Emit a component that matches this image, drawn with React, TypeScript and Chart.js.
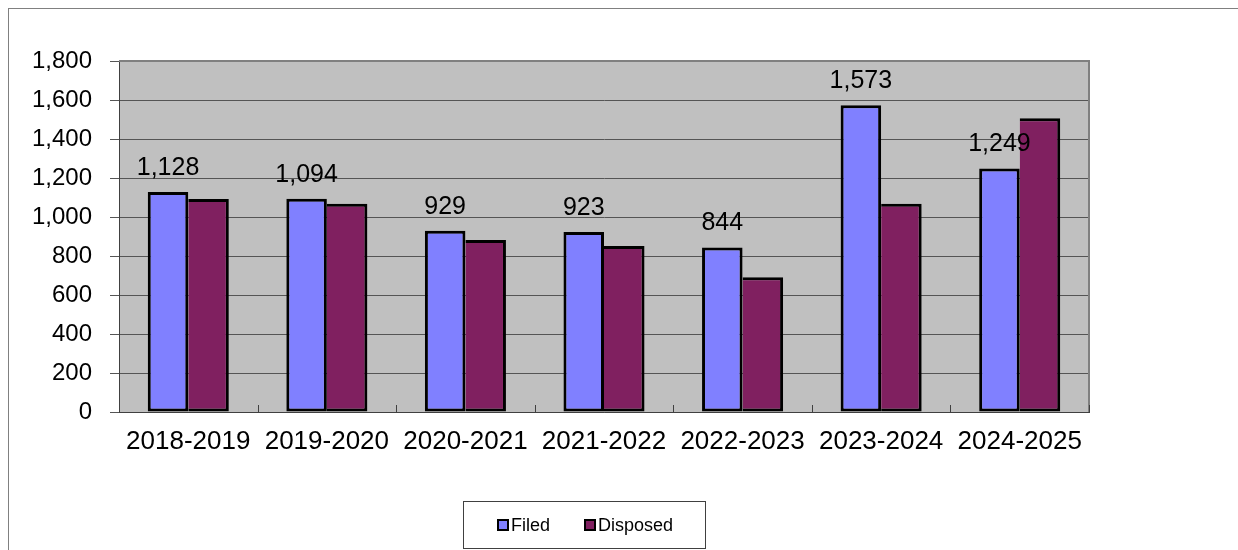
import { useEffect, useRef } from "react";
import { Chart, registerables, type Plugin } from "chart.js";

Chart.register(...registerables);

const categories = ["2018-2019", "2019-2020", "2020-2021", "2021-2022", "2022-2023", "2023-2024", "2024-2025"];
const filed = [1128, 1094, 929, 923, 844, 1573, 1249];
const disposed = [1092, 1068, 882, 851, 691, 1068, 1506];
const seriesNames = ["Filed", "Disposed"];
const yMin = 0;
const yMax = 1800;
const yStep = 200;

const FONT = "'Liberation Sans', Arial, sans-serif";
const FILED_COLOR = "#8080FF";
const DISPOSED_COLOR = "#802060";

const fmt = (v: number) => v.toLocaleString("en-US");

// background, frame, inner x ticks, value labels and legend box
const decor: Plugin<"bar"> = {
    id: "decor",
    beforeDraw(chart) {
        const { ctx, chartArea: a } = chart;
        ctx.save();
        ctx.fillStyle = "#ffffff";
        ctx.fillRect(0, 0, chart.width, chart.height);
        ctx.strokeStyle = "#808080";
        ctx.lineWidth = 1;
        ctx.strokeRect(8.5, 8.5, chart.width + 20, chart.height + 20);
        ctx.fillStyle = "#C0C0C0";
        ctx.fillRect(a.left, a.top, a.right - a.left, a.bottom - a.top);
        ctx.restore();
    },
    afterDatasetsDraw(chart) {
        const { ctx, chartArea: a } = chart;
        const x = chart.scales.x;
        ctx.save();
        // plot area border (top / right)
        ctx.strokeStyle = "#808080";
        ctx.lineWidth = 2;
        ctx.beginPath();
        ctx.moveTo(a.left, a.top);
        ctx.lineTo(a.right, a.top);
        ctx.lineTo(a.right, a.bottom);
        ctx.stroke();

        // category separators pointing up into the plot
        const half = (x.getPixelForValue(1) - x.getPixelForValue(0)) / 2;
        ctx.strokeStyle = "#404040";
        ctx.lineWidth = 1;
        for (let i = 0; i <= categories.length; i++) {
            const px = Math.round(x.getPixelForValue(i) - half) + 0.5;
            ctx.beginPath();
            ctx.moveTo(px, a.bottom);
            ctx.lineTo(px, a.bottom - 7);
            ctx.stroke();
        }

        // value labels above Filed bars
        const meta = chart.getDatasetMeta(0);
        ctx.fillStyle = "#000000";
        ctx.font = `25px ${FONT}`;
        ctx.textAlign = "center";
        ctx.textBaseline = "alphabetic";
        meta.data.forEach((bar, i) => {
            ctx.fillText(fmt(filed[i]), bar.x, bar.y - 17);
        });
        ctx.restore();
    },
    afterDraw(chart) {
        const { ctx } = chart;
        ctx.save();
        ctx.strokeStyle = "#404040";
        ctx.lineWidth = 1;
        ctx.fillStyle = "#ffffff";
        ctx.fillRect(463, 501, 242, 47);
        ctx.strokeRect(463.5, 501.5, 242, 47);

        const items = [
            { x: 497, color: FILED_COLOR },
            { x: 584, color: DISPOSED_COLOR },
        ];
        ctx.font = `18px ${FONT}`;
        ctx.textAlign = "left";
        ctx.textBaseline = "alphabetic";
        chart.data.datasets.forEach((ds, i) => {
            const it = items[i];
            ctx.fillStyle = it.color;
            ctx.fillRect(it.x, 519, 12, 12);
            ctx.strokeStyle = "#000000";
            ctx.lineWidth = 2;
            ctx.strokeRect(it.x + 1, 520, 10, 10);
            ctx.fillStyle = "#000000";
            ctx.fillText(String(ds.label), it.x + 14, 531);
        });
        ctx.restore();
    },
};

const App = () => {
    const chartRef = useRef<HTMLCanvasElement>(null);
    const chartInstance = useRef<Chart<"bar"> | null>(null);

    useEffect(() => {
        if (!chartRef.current) return;
        if (chartInstance.current) chartInstance.current.destroy();
        const ctx = chartRef.current.getContext("2d");
        if (!ctx) return;

        chartInstance.current = new Chart(ctx, {
            type: "bar",
            data: {
                labels: categories,
                datasets: [
                    {
                        label: seriesNames[0],
                        data: filed,
                        backgroundColor: FILED_COLOR,
                        borderColor: "#000000",
                        borderWidth: 3,
                        borderSkipped: false,
                        barPercentage: 1,
                        categoryPercentage: 0.585,
                    },
                    {
                        label: seriesNames[1],
                        data: disposed,
                        backgroundColor: DISPOSED_COLOR,
                        borderColor: "#000000",
                        borderWidth: 3,
                        // shares the Filed bar's right edge
                        borderSkipped: "left",
                        barPercentage: 1,
                        categoryPercentage: 0.585,
                    },
                ],
            },
            options: {
                responsive: true,
                maintainAspectRatio: false,
                animation: false,
                layout: { padding: { left: 0, top: 61, right: 149, bottom: 0 } },
                plugins: {
                    legend: { display: false },
                    tooltip: { enabled: false },
                    title: { display: false },
                },
                scales: {
                    x: {
                        afterFit: (scale) => {
                            scale.height = 138;
                        },
                        grid: { display: true, drawOnChartArea: false, drawTicks: false },
                        border: { display: true, color: "#404040", width: 1 },
                        ticks: {
                            color: "#000000",
                            padding: 14,
                            font: { family: FONT, size: 26 },
                            maxRotation: 0,
                            autoSkip: false,
                        },
                    },
                    y: {
                        min: yMin,
                        max: yMax,
                        afterFit: (scale) => {
                            scale.width = 119;
                        },
                        grid: { color: "#555555", lineWidth: 1, tickLength: 9 },
                        border: { display: true, color: "#404040", width: 1 },
                        ticks: {
                            stepSize: yStep,
                            color: "#000000",
                            padding: 18,
                            font: { family: FONT, size: 24 },
                            callback: (v) => fmt(Number(v)),
                        },
                    },
                },
            },
            plugins: [decor],
        });

        return () => {
            if (chartInstance.current) {
                chartInstance.current.destroy();
                chartInstance.current = null;
            }
        };
    }, []);

    return (
        <div style={{ position: "absolute", left: 0, top: 0, width: 1238, height: 550 }}>
            <canvas ref={chartRef}></canvas>
        </div>
    );
};

export default App;
